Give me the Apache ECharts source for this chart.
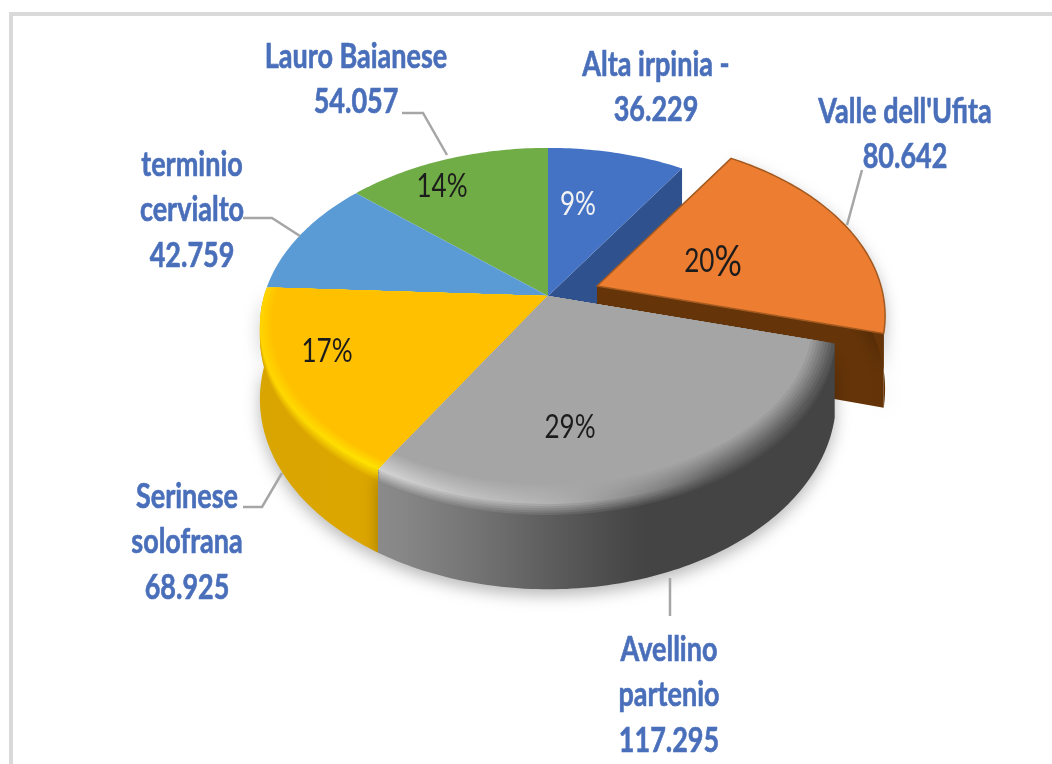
<!DOCTYPE html>
<html>
<head>
<meta charset="utf-8">
<style>html,body{margin:0;padding:0;background:#fff}#c{width:1052px;height:764px;filter:blur(0.6px)}</style>
<script src="https://cdn.jsdelivr.net/npm/echarts@6/dist/echarts.min.js"></script>
</head>
<body>
<div id="c"></div>
<script>
// ---- data ----
const categories = ["Alta irpinia -", "Valle dell'Ufita", "Avellino\npartenio", "Serinese\nsolofrana", "terminio\ncervialto", "Lauro Baianese"];
const values = [36.229, 80.642, 117.295, 68.925, 42.759, 54.057];
const percentLabels = ["9%", "20%", "29%", "17%", "", "14%"];

// ---- styles and layout (kept apart from the data) ----
const FONT = 'Lato, "Open Sans", sans-serif';
const topColors = ["#4472C4", "#ED7D31", "#A5A5A5", "#FFC000", "#5B9BD5", "#70AD47"];
const wallColors = ["#2F528F", "#653408", null, null, null, null];
const sideStops = {
  1: [[600, "#653408"], [890, "#653408"]],
  2: [[380, "#8c8c8c"], [470, "#757575"], [560, "#5a5a5a"], [640, "#444444"], [835, "#444444"]],
  3: [[260, "#d9a500"], [380, "#dca600"]]
};
const hiStops = {
  2: [[380, "#d2d2d2"], [470, "#c0c0c0"], [560, "#b0b0b0"], [640, "#8c8c8c"], [720, "#666666"], [835, "#555555"]],
  3: [[260, "#ffd400"], [380, "#ffe400"]]
};
const ringWidth = { 2: 0.08, 3: 0.04 };
const drawOrder = [0, 1, 5, 4, 3, 2];
const explode = [[0, 0], [49, -10], [0, 0], [0, 0], [0, 0], [0, 0]];
const apex = [548, 296], R = 284, S = 173, K = 0.168, DEPTH = 71;
const pctPos = [[578, 205], [713, 262], [570, 428], [327, 352], null, [442, 187]];
const labelPos = [[656, 65], [905, 112], [669, 650], [187, 497], [192, 165], [356, 57]];
const leaders = [
  [[402, 113], [423, 113], [447, 155]],
  [[862, 170], [847, 225]],
  [[243, 218], [272, 218], [300, 236]],
  [[243, 507], [262, 507], [282, 473]],
  [[670, 578], [670, 616]]
];

const total = values.reduce((a, b) => a + b, 0);
function hex(c) { return [1, 3, 5].map(i => parseInt(c.substr(i, 2), 16)); }
function mix(a, b, t) {
  const A = hex(a), B = hex(b);
  return "#" + A.map((v, i) => Math.round(v + (B[i] - v) * t).toString(16).padStart(2, "0")).join("");
}
function at(stops, x) {
  if (x <= stops[0][0]) return stops[0][1];
  for (let i = 1; i < stops.length; i++) {
    if (x <= stops[i][0]) {
      return mix(stops[i - 1][1], stops[i][1], (x - stops[i - 1][0]) / (stops[i][0] - stops[i - 1][0]));
    }
  }
  return stops[stops.length - 1][1];
}
function xs() { const o = []; for (let x = 260; x <= 890; x += 35) o.push(x); return o; }
function grad(fn) {
  const X = xs(), x0 = X[0], x1 = X[X.length - 1];
  return { type: "linear", x: x0, y: 0, x2: x1, y2: 0, global: true,
    colorStops: X.map(x => ({ offset: (x - x0) / (x1 - x0), color: fn(x) })) };
}
// circle point (angle in degrees clockwise from 12 o'clock) seen in perspective
function proj(deg, r, i, depth) {
  const t = deg * Math.PI / 180, x = r * Math.sin(t), y = -r * Math.cos(t), w = 1 - K * y;
  return [apex[0] + explode[i][0] + R * x / w, apex[1] + explode[i][1] + S * y / w + (depth || 0) / w];
}
function arc(a, b, r, i, depth) {
  const o = [], n = Math.ceil(b - a);
  for (let k = 0; k <= n; k++) o.push(proj(a + (b - a) * k / n, r, i, depth));
  return o;
}
function slice(a, b, r, i, off) {
  const c = proj(0, 0, i, off);
  return [c].concat(arc(a, b, r, i, off));
}
function poly(points, fill, z2, extra) {
  return { type: "polygon", z2: z2, shape: { points: points }, style: Object.assign({ fill: fill }, extra || {}), silent: true };
}

function renderSlice(params, api) {
  const i = api.value(0);
  const order = drawOrder.indexOf(i) * 100 + 1;
  let a = 0;
  for (let k = 0; k < i; k++) a += values[k];
  const start = a / total * 360, end = (a + api.value(1)) / total * 360;
  const kids = [];
  let z = order;
  const top = topColors[i];

  if (wallColors[i]) {
    const c0 = proj(0, 0, i, 0), c1 = proj(0, 0, i, DEPTH), e0 = proj(end, 1, i, 0), e1 = proj(end, 1, i, DEPTH);
    kids.push(poly([c0, e0, e1, c1], wallColors[i], z++));
  }
  if (sideStops[i]) {
    const upper = arc(start, end, 1, i, 0), lower = arc(start, end, 1, i, DEPTH).reverse();
    kids.push(poly(upper.concat(lower), grad(x => at(sideStops[i], x)), z++,
      { shadowColor: "rgba(0,0,0,0.28)", shadowBlur: 16, shadowOffsetY: 6 }));
  }
  if (hiStops[i]) {
    const OFF = 11, N1 = 6, N2 = 8, IN = ringWidth[i];
    for (let k = N1; k >= 1; k--) {
      const t = k / N1;
      kids.push(poly(slice(start, end, 1, i, OFF * t), grad(x => mix(at(hiStops[i], x), at(sideStops[i], x), t)), z++));
    }
    for (let k = 0; k < N2; k++) {
      const t = k / N2;
      kids.push(poly(slice(start, end, 1 - IN * t, i, 0), grad(x => mix(at(hiStops[i], x), top, t)), z++));
    }
    kids.push(poly(slice(start, end, 1 - IN, i, 0), top, z++));
  } else {
    const extra = i === 1 ? { stroke: "#a4591f", lineWidth: 1.5, lineJoin: "round" } : {};
    kids.push(poly(slice(start, end, 1, i, 0), top, z++, extra));
  }

  // percentage label
  if (percentLabels[i]) {
    const p = pctPos[i], s = percentLabels[i], num = s.slice(0, -1);
    kids.push({
      type: "text", x: p[0], y: p[1], scaleX: 0.9, scaleY: 1.12, z2: 900, silent: true,
      style: {
        text: i === 1 ? "{a|" + num + "}{b|%}" : s,
        font: "400 29px " + FONT, fill: i === 0 ? "#f2f2f2" : "#1c1c1c",
        align: "center", verticalAlign: "middle",
        rich: i === 1 ? {
          a: { font: "400 29px " + FONT, fill: "#1c1c1c" },
          b: { font: "400 38px " + FONT, fill: "#1c1c1c" }
        } : undefined
      }
    });
  }
  // category / value label
  const lines = categories[i].split("\n").concat(api.value(1).toFixed(3));
  const lp = labelPos[i];
  lines.forEach((ln, k) => {
    kids.push({
      type: "text", x: lp[0], y: lp[1] + k * 45.5, scaleY: 1.24, z2: 900, silent: true,
      style: { text: ln, font: "700 27px " + FONT, fill: "#4A6FBA", align: "center", verticalAlign: "middle",
        stroke: "#4A6FBA", lineWidth: 0.5 }
    });
  });
  return { type: "group", children: kids };
}

const chart = echarts.init(document.getElementById("c"), null, { renderer: "canvas" });
chart.setOption({
  animation: false,
  backgroundColor: "#ffffff",
  graphic: {
    elements: [
      { type: "rect", silent: true, z: 0, shape: { x: 9, y: 12, width: 1043, height: 4 }, style: { fill: "#d9d9d9" } },
      { type: "rect", silent: true, z: 0, shape: { x: 9, y: 12, width: 4, height: 752 }, style: { fill: "#d9d9d9" } }
    ].concat(leaders.map(l => ({
      type: "polyline", silent: true, z: 5, shape: { points: l },
      style: { stroke: "#a6a6a6", lineWidth: 2.5, fill: null }
    })))
  },
  series: [{
    type: "custom",
    coordinateSystem: "none",
    silent: true,
    z: 2,
    data: values.map((v, i) => [i, v]),
    renderItem: renderSlice
  }]
});
</script>
</body>
</html>
